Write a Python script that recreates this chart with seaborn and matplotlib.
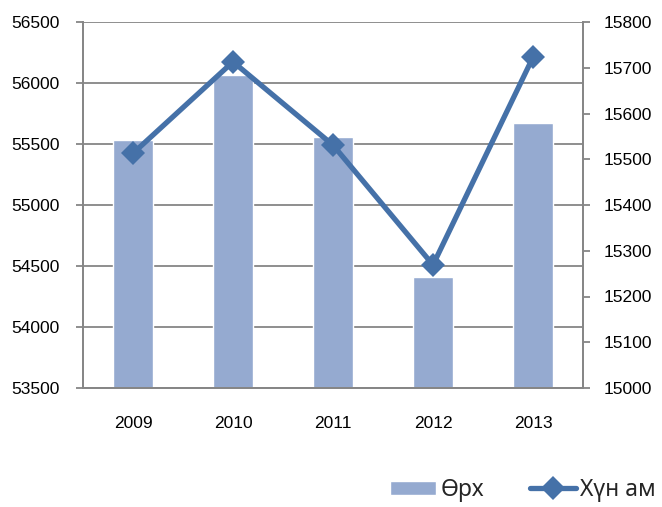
import pandas as pd
import matplotlib.pyplot as plt
import seaborn as sns
from matplotlib.ticker import MultipleLocator

# data
years = ["2009", "2010", "2011", "2012", "2013"]
households = [55530, 56065, 55555, 54412, 55672]   # Өрх (left axis, bars)
population = [15513, 15713, 15531, 15269, 15723]   # Хүн ам (right axis, line)

bar_label = "Өрх"
line_label = "Хүн ам"

df = pd.DataFrame({"year": years, "households": households, "population": population})

sns.set_theme(style="white")
plt.rcParams["font.family"] = ["Liberation Sans", "DejaVu Sans"]

grid_c = "#868686"
bar_c = "#95AAD0"
line_c = "#4571A8"
fs = 12.5

fig = plt.figure(figsize=(6.62, 5.07), dpi=100)
ax = fig.add_axes([83 / 662, 1 - 388 / 507, 500 / 662, 366 / 507])

sns.barplot(data=df, x="year", y="households", color=bar_c, width=0.4,
            saturation=1, ax=ax, label=bar_label, zorder=2)
ax.set_ylim(53500, 56500)
ax.set_xlim(-0.5, 4.5)
ax.yaxis.set_major_locator(MultipleLocator(500))
ax.grid(axis="y", color=grid_c, linewidth=1.3, zorder=0)
ax.set_axisbelow(True)
ax.set_xlabel("")
ax.set_ylabel("")

ax2 = ax.twinx()
sns.lineplot(x=range(len(years)), y=population, ax=ax2, color=line_c,
             linewidth=3.8, marker="D", markersize=12, markeredgewidth=0,
             label=line_label, zorder=3)
ax2.set_ylim(15000, 15800)
ax2.yaxis.set_major_locator(MultipleLocator(100))
ax2.set_ylabel("")
ax2.set_xlim(-0.5, 4.5)

for a in (ax, ax2):
    for s in a.spines.values():
        s.set_color(grid_c)
        s.set_linewidth(1.3)
    a.spines["top"].set_visible(False)

ax.tick_params(axis="y", which="major", left=True, length=5, width=1.3,
               color=grid_c, labelsize=fs, pad=12, labelcolor="black")
ax.tick_params(axis="x", bottom=False, labelsize=fs, pad=14, labelcolor="black")
ax2.tick_params(axis="y", right=True, length=5, width=1.3, color=grid_c,
                labelsize=fs, pad=10, labelcolor="black")

# legend at bottom right
h1, l1 = ax.get_legend_handles_labels()
h2, l2 = ax2.get_legend_handles_labels()
if ax2.get_legend():
    ax2.get_legend().remove()
if ax.get_legend():
    ax.get_legend().remove()
fig.legend(h1 + h2, l1 + l2, loc="center", bbox_to_anchor=(523 / 662, 1 - 490 / 507),
           ncol=2, frameon=False, handlelength=2.0, handleheight=0.6,
           columnspacing=2.0, handletextpad=0.2,
           prop={"family": ["Noto Sans", "DejaVu Sans"], "size": 16.5})

fig.savefig("out.png", dpi=100)
